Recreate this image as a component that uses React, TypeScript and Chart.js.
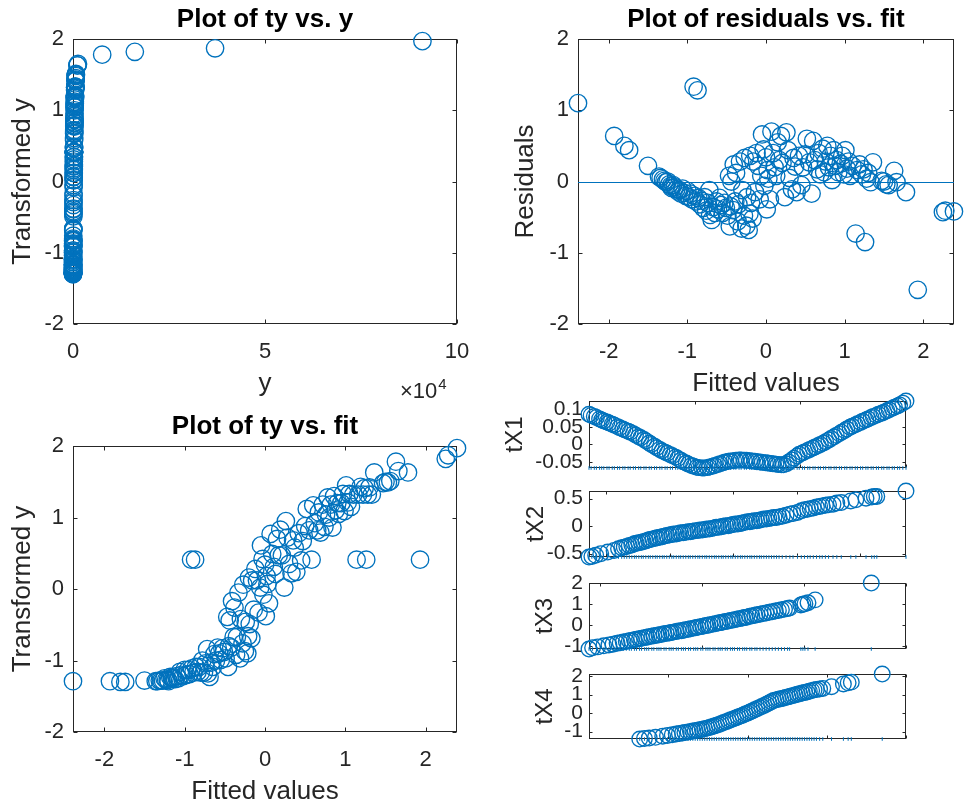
import { useEffect, useRef } from "react";
import { Chart, registerables } from "chart.js";

Chart.register(...registerables);

// ---------------------------------------------------------------------------
// Observations: fitted values, transformed response and raw response
// ---------------------------------------------------------------------------
const fitted = [
  -2.39, -1.93, -1.8, -1.74, -1.5, -1.36, -1.34, -1.31, -1.29, -1.27,
  -1.25, -1.23, -1.21, -1.2, -1.18, -1.16, -1.14, -1.12, -1.1, -1.08,
  -1.06, -1.04, -1.02, -1.0, -0.98, -0.96, -0.94, -0.92, -0.91, -0.89,
  -0.87, -0.86, -0.84, -0.82, -0.8, -0.78, -0.76, -0.74, -0.72, -0.71,
  -0.69, -0.67, -0.65, -0.63, -0.61, -0.59, -0.57, -0.55, -0.53, -0.51,
  -0.49, -0.47, -0.46, -0.45, -0.44, -0.42, -0.41, -0.39, -0.38, -0.36,
  -0.35, -0.33, -0.31, -0.3, -0.28, -0.27, -0.25, -0.24, -0.22, -0.21,
  -0.2, -0.19, -0.17, -0.16, -0.14, -0.12, -0.1, -0.08, -0.06, -0.05,
  -0.03, -0.02, 0.0, 0.01, 0.02, 0.03, 0.05, 0.07, 0.09, 0.11,
  0.13, 0.15, 0.17, 0.19, 0.21, 0.24, 0.26, 0.28, 0.3, 0.33,
  0.35, 0.37, 0.39, 0.42, 0.45, 0.47, 0.5, 0.52, 0.55, 0.58,
  0.6, 0.62, 0.65, 0.67, 0.69, 0.72, 0.74, 0.76, 0.78, 0.8,
  0.82, 0.84, 0.86, 0.88, 0.9, 0.92, 0.95, 0.97, 0.99, 1.01,
  1.03, 1.05, 1.07, 1.1, 1.14, 1.16, 1.19, 1.22, 1.24, 1.26,
  1.28, 1.3, 1.33, 1.36, 1.47, 1.5, 1.53, 1.56, 1.63, 1.66,
  1.78, 1.93, 2.25, 2.28, 2.39,
];

const transformedY = [
  -1.29, -1.29, -1.3, -1.3, -1.28, -1.29, -1.29, -1.28, -1.28, -1.28,
  -1.25, -1.27, -1.27, -1.29, -1.23, -1.24, -1.25, -1.26, -1.22, -1.25,
  -1.16, -1.2, -1.22, -1.13, -1.2, -1.13, -1.19, 0.41, -1.11, -1.17,
  0.41, -1.09, -1.16, -1.09, -1.17, -1.0, -1.17, -1.04, -0.84, -1.18,
  -1.23, -1.03, -1.09, -0.91, -1.0, -0.82, -0.9, -0.99, -0.83, -0.88,
  -0.97, -0.39, -1.09, -0.8, -0.44, -0.82, -0.17, -0.67, -0.26, -0.92,
  -0.67, -0.05, -0.97, -0.42, -0.76, 0.06, -0.87, -0.46, -0.9, -0.66,
  0.16, -0.49, -0.69, 0.12, -0.29, 0.28, 0.12, -0.33, 0.02, 0.61,
  0.42, -0.08, 0.34, -0.38, 0.18, 0.07, -0.2, 0.77, 0.49, 0.31,
  0.21, 0.7, 0.47, 0.83, 0.47, 0.02, 0.95, 0.72, 0.35, 0.22,
  0.68, 0.58, 0.24, 0.78, 0.4, 0.67, 0.88, 1.12, 0.82, 0.41,
  1.17, 0.92, 0.82, 1.07, 0.79, 1.18, 0.87, 1.04, 1.28, 1.0,
  1.18, 0.86, 1.3, 1.1, 1.2, 1.05, 1.2, 1.33, 1.09, 1.45,
  1.21, 1.33, 1.15, 1.32, 0.41, 1.32, 1.43, 1.32, 1.41, 0.41,
  1.32, 1.42, 1.32, 1.63, 1.48, 1.5, 1.49, 1.51, 1.78, 1.65,
  1.63, 0.41, 1.82, 1.87, 1.97,
];

const responseY = [
  6, 6, 5, 5, 8, 6, 6, 8, 8, 8,
  11, 9, 9, 6, 13, 12, 11, 10, 14, 11,
  20, 16, 14, 23, 16, 23, 17, 248, 25, 19,
  248, 27, 20, 27, 19, 36, 19, 32, 55, 18,
  13, 33, 27, 46, 36, 58, 48, 37, 56, 50,
  40, 114, 27, 60, 107, 58, 145, 77, 132, 45,
  77, 163, 40, 110, 65, 182, 52, 104, 48, 78,
  199, 100, 74, 192, 128, 221, 192, 122, 175, 295,
  250, 158, 233, 116, 203, 184, 140, 337, 266, 227,
  208, 318, 262, 355, 262, 175, 396, 323, 235, 210,
  313, 287, 214, 340, 245, 310, 371, 468, 352, 248,
  494, 385, 352, 445, 343, 500, 368, 432, 560, 415,
  500, 364, 573, 459, 511, 436, 511, 594, 454, 690,
  517, 594, 483, 587, 248, 587, 672, 587, 655, 248,
  587, 663, 587, 1150, 718, 738, 728, 748, 7600, 1300,
  1150, 248, 16100, 37000, 91000,
];

// residual = transformed response - fitted value
const residuals = transformedY.map((t, i) => Math.round((t - fitted[i]) * 100) / 100);

// ---------------------------------------------------------------------------
// Predictors and their transformations
// ---------------------------------------------------------------------------
const x1 = [
  0.0, 0.02, 0.05, 0.07, 0.1, 0.12, 0.14, 0.17, 0.19, 0.22,
  0.24, 0.27, 0.29, 0.32, 0.34, 0.37, 0.39, 0.42, 0.44, 0.47,
  0.49, 0.52, 0.54, 0.57, 0.59, 0.62, 0.64, 0.67, 0.69, 0.72,
  0.74, 0.77, 0.79, 0.82, 0.84, 0.87, 0.89, 0.92, 0.94, 0.97,
  0.99, 1.02, 1.04, 1.07, 1.09, 1.12, 1.14, 1.17, 1.19, 1.22,
  1.24, 1.27, 1.29, 1.32, 1.34, 1.37, 1.39, 1.42, 1.44, 1.47,
  1.49, 1.52, 1.54, 1.57, 1.59, 1.62, 1.64, 1.67, 1.69, 1.72,
  1.74, 1.77, 1.79, 1.82, 1.84, 1.87, 1.89, 1.92, 1.94, 1.97,
  1.99, 2.02, 2.04, 2.07, 2.09, 2.12, 2.14, 2.17, 2.19, 2.22,
  2.24, 2.27, 2.29, 2.32, 2.34, 2.37, 2.39, 2.42, 2.44, 2.47,
  2.49, 2.52, 2.54, 2.57, 2.59, 2.62, 2.64, 2.67, 2.69, 2.72,
  2.74, 2.77, 2.79, 2.82, 2.84, 2.87, 2.89, 2.92, 2.94, 2.97,
  3.0,
];
const tX1 = [
  0.086, 0.083, 0.08, 0.077, 0.073, 0.07, 0.067, 0.064, 0.061, 0.058,
  0.055, 0.051, 0.048, 0.044, 0.041, 0.038, 0.035, 0.031, 0.027, 0.022,
  0.019, 0.014, 0.01, 0.004, 0.0, -0.005, -0.009, -0.014, -0.018, -0.022,
  -0.025, -0.029, -0.032, -0.036, -0.04, -0.045, -0.049, -0.053, -0.056, -0.06,
  -0.062, -0.065, -0.066, -0.067, -0.067, -0.066, -0.064, -0.062, -0.06, -0.057,
  -0.055, -0.052, -0.05, -0.048, -0.047, -0.046, -0.045, -0.044, -0.044, -0.045,
  -0.045, -0.046, -0.047, -0.048, -0.049, -0.05, -0.051, -0.052, -0.053, -0.054,
  -0.055, -0.056, -0.057, -0.058, -0.058, -0.055, -0.05, -0.044, -0.039, -0.033,
  -0.028, -0.024, -0.021, -0.017, -0.014, -0.01, -0.007, -0.003, 0.0, 0.004,
  0.008, 0.013, 0.017, 0.022, 0.026, 0.031, 0.035, 0.04, 0.044, 0.049,
  0.052, 0.056, 0.059, 0.063, 0.066, 0.07, 0.073, 0.077, 0.08, 0.083,
  0.086, 0.089, 0.092, 0.096, 0.099, 0.103, 0.106, 0.11, 0.113, 0.118,
  0.124,
];

const x2 = [
  0.725, 0.77, 0.83, 0.91, 1.02, 1.12, 1.19, 1.24, 1.28, 1.32,
  1.36, 1.4, 1.44, 1.47, 1.51, 1.55, 1.58, 1.62, 1.66, 1.69,
  1.73, 1.77, 1.8, 1.84, 1.88, 1.91, 1.95, 1.99, 2.03, 2.06,
  2.1, 2.14, 2.17, 2.21, 2.25, 2.29, 2.32, 2.36, 2.4, 2.44,
  2.47, 2.51, 2.55, 2.58, 2.62, 2.66, 2.7, 2.73, 2.77, 2.81,
  2.84, 2.88, 2.92, 2.96, 2.99, 3.03, 3.07, 3.11, 3.14, 3.18,
  3.22, 3.26, 3.29, 3.33, 3.37, 3.41, 3.44, 3.48, 3.52, 3.56,
  3.6, 3.64, 3.68, 3.72, 3.77, 3.83, 3.89, 3.94, 4.01, 4.07,
  4.12, 4.17, 4.21, 4.26, 4.31, 4.36, 4.4, 4.45, 4.5, 4.57,
  4.63, 4.7, 4.85, 4.93, 5.09, 5.18, 5.22, 5.26, 5.72,
];
const tX2 = [
  -0.56, -0.55, -0.53, -0.5, -0.47, -0.44, -0.41, -0.39, -0.38, -0.37,
  -0.35, -0.34, -0.32, -0.31, -0.3, -0.29, -0.28, -0.27, -0.25, -0.24,
  -0.23, -0.22, -0.21, -0.2, -0.19, -0.18, -0.17, -0.16, -0.15, -0.14,
  -0.14, -0.13, -0.12, -0.12, -0.11, -0.1, -0.1, -0.09, -0.08, -0.08,
  -0.07, -0.07, -0.06, -0.05, -0.05, -0.04, -0.03, -0.02, -0.02, -0.01,
  0.0, 0.01, 0.01, 0.02, 0.03, 0.04, 0.04, 0.05, 0.06, 0.07,
  0.08, 0.08, 0.09, 0.1, 0.1, 0.11, 0.12, 0.13, 0.13, 0.14,
  0.15, 0.16, 0.16, 0.17, 0.18, 0.2, 0.22, 0.23, 0.25, 0.28,
  0.3, 0.31, 0.32, 0.33, 0.35, 0.36, 0.37, 0.38, 0.39, 0.4,
  0.42, 0.43, 0.46, 0.48, 0.51, 0.53, 0.54, 0.54, 0.64,
];

const x3 = [
  0.895, 0.93, 0.98, 1.04, 1.09, 1.13, 1.17, 1.2, 1.23, 1.26,
  1.29, 1.31, 1.34, 1.36, 1.39, 1.41, 1.44, 1.46, 1.48, 1.51,
  1.53, 1.56, 1.58, 1.6, 1.63, 1.65, 1.68, 1.7, 1.72, 1.75,
  1.77, 1.8, 1.82, 1.84, 1.87, 1.89, 1.92, 1.94, 1.96, 1.99,
  2.01, 2.04, 2.06, 2.08, 2.11, 2.13, 2.16, 2.18, 2.2, 2.23,
  2.25, 2.28, 2.3, 2.32, 2.35, 2.37, 2.4, 2.42, 2.44, 2.47,
  2.49, 2.52, 2.54, 2.57, 2.6, 2.63, 2.66, 2.69, 2.72, 2.75,
  2.78, 2.81, 2.84, 2.86, 2.97, 2.99, 3.01, 3.04, 3.11, 3.66,
];
const tX3 = [
  -1.13, -1.07, -1.03, -0.98, -0.94, -0.9, -0.86, -0.83, -0.8, -0.77,
  -0.74, -0.72, -0.69, -0.67, -0.64, -0.62, -0.59, -0.57, -0.55, -0.52,
  -0.5, -0.48, -0.46, -0.44, -0.41, -0.39, -0.37, -0.35, -0.33, -0.3,
  -0.28, -0.26, -0.24, -0.22, -0.19, -0.17, -0.14, -0.12, -0.1, -0.07,
  -0.05, -0.02, 0.0, 0.02, 0.05, 0.07, 0.1, 0.12, 0.14, 0.17,
  0.19, 0.22, 0.24, 0.26, 0.29, 0.31, 0.34, 0.36, 0.38, 0.42,
  0.44, 0.47, 0.49, 0.52, 0.55, 0.58, 0.61, 0.64, 0.67, 0.7,
  0.73, 0.76, 0.79, 0.81, 0.96, 0.99, 1.02, 1.06, 1.2, 2.0,
];

const x4 = [
  0.64, 0.7, 0.76, 0.84, 0.93, 0.99, 1.05, 1.1, 1.14, 1.18,
  1.21, 1.25, 1.28, 1.31, 1.34, 1.37, 1.4, 1.43, 1.46, 1.49,
  1.52, 1.55, 1.58, 1.61, 1.64, 1.67, 1.7, 1.73, 1.76, 1.79,
  1.82, 1.85, 1.88, 1.91, 1.94, 1.97, 2.0, 2.03, 2.06, 2.09,
  2.12, 2.15, 2.18, 2.21, 2.24, 2.27, 2.3, 2.33, 2.36, 2.39,
  2.42, 2.45, 2.48, 2.51, 2.54, 2.57, 2.6, 2.63, 2.66, 2.69,
  2.72, 2.75, 2.78, 2.81, 2.84, 2.87, 2.91, 2.95, 3.06, 3.21,
  3.27, 3.31, 3.7,
];
const tX4 = [
  -1.4, -1.37, -1.35, -1.31, -1.25, -1.21, -1.17, -1.13, -1.1, -1.07,
  -1.05, -1.02, -1.0, -0.97, -0.95, -0.92, -0.9, -0.87, -0.84, -0.81,
  -0.78, -0.74, -0.7, -0.66, -0.61, -0.56, -0.51, -0.46, -0.41, -0.36,
  -0.31, -0.26, -0.21, -0.16, -0.11, -0.05, 0.0, 0.06, 0.12, 0.18,
  0.24, 0.3, 0.36, 0.42, 0.48, 0.55, 0.62, 0.68, 0.72, 0.75,
  0.78, 0.81, 0.85, 0.88, 0.91, 0.95, 0.98, 1.02, 1.05, 1.09,
  1.12, 1.15, 1.19, 1.22, 1.26, 1.28, 1.31, 1.34, 1.43, 1.58,
  1.64, 1.68, 2.12,
];

// ---------------------------------------------------------------------------
// Axis ticks and limits
// ---------------------------------------------------------------------------
const unitTicks = [-2, -1, 0, 1, 2];
const unitRange = [-2, 2];
const responseTicks = [0, 50000, 100000];
const responseRange = [0, 100000];
const responseExponent = 4;
const x1Ticks = [0, 1, 2, 3];
const x1Range = [0, 3];
const tX1Ticks = [-0.05, 0, 0.05, 0.1];
const x2Ticks = [1, 2, 3, 4, 5];
const x2Range = [0.725, 5.72];
const tX2Ticks = [-0.5, 0, 0.5];
const x3Ticks = [1, 2, 3, 4];
const x3Range = [0.895, 4];
const tX3Ticks = [-1, 0, 1, 2];
const x4Ticks = [0, 1, 2, 3, 4];
const x4Range = [0, 4];
const tX4Ticks = [-1, 0, 1, 2];
const residualReference = 0;

// ---------------------------------------------------------------------------
// Styling
// ---------------------------------------------------------------------------
const BLUE = "#0072BD";
const AXIS = "#262626";
const FONT = "'Liberation Sans', Arial, Helvetica, sans-serif";

const fmtPlain = (v: number | string) => String(Math.round(Number(v) * 10000) / 10000);
const fmtExponent = (v: number | string) => String(Number(v) / Math.pow(10, responseExponent));

// Box around the plot area with inward tick marks on all four sides
const boxPlugin = {
  id: "matlabBox",
  beforeDatasetsDraw(chart: any, _args: any, opts: any) {
    const { ctx, chartArea: a, scales } = chart;
    const len = opts.tickLength ?? 4;
    const L = Math.round(a.left) + 0.5;
    const R = Math.round(a.right) - 0.5;
    const T = Math.round(a.top) + 0.5;
    const B = Math.round(a.bottom) - 0.5;
    ctx.save();
    ctx.strokeStyle = AXIS;
    ctx.lineWidth = 1;
    ctx.strokeRect(L, T, R - L, B - T);
    ctx.beginPath();
    for (const t of scales.x.ticks) {
      const px = Math.round(scales.x.getPixelForValue(t.value)) + 0.5;
      ctx.moveTo(px, B);
      ctx.lineTo(px, B - len);
      ctx.moveTo(px, T);
      ctx.lineTo(px, T + len);
    }
    for (const t of scales.y.ticks) {
      const py = Math.round(scales.y.getPixelForValue(t.value)) + 0.5;
      ctx.moveTo(L, py);
      ctx.lineTo(L + len, py);
      ctx.moveTo(R, py);
      ctx.lineTo(R - len, py);
    }
    ctx.stroke();
    ctx.beginPath();
    ctx.restore();
  },
};

// Horizontal reference line (residual = 0) across the fitted range
const referencePlugin = {
  id: "referenceLine",
  afterDatasetsDraw(chart: any, _args: any, opts: any) {
    if (opts.value === undefined || opts.value === null) return;
    const { ctx, scales } = chart;
    const py = Math.round(scales.y.getPixelForValue(opts.value)) + 0.5;
    const x0 = scales.x.getPixelForValue(opts.from);
    const x1p = scales.x.getPixelForValue(opts.to);
    ctx.save();
    ctx.beginPath();
    ctx.strokeStyle = BLUE;
    ctx.lineWidth = 1;
    ctx.moveTo(x0, py);
    ctx.lineTo(x1p, py);
    ctx.stroke();
    ctx.restore();
  },
};

// "×10^n" multiplier under the right end of the x axis
const exponentPlugin = {
  id: "axisExponent",
  afterDraw(chart: any, _args: any, opts: any) {
    const { ctx, chartArea: a } = chart;
    const x0 = a.right - 57;
    const base = a.bottom + 74;
    ctx.save();
    ctx.fillStyle = AXIS;
    ctx.textAlign = "left";
    ctx.textBaseline = "alphabetic";
    ctx.font = `22px ${FONT}`;
    ctx.fillText("×10", x0, base);
    const w = ctx.measureText("×10").width;
    ctx.font = `15px ${FONT}`;
    ctx.fillText(String(opts.exponent), x0 + w + 1, base - 9);
    ctx.restore();
  },
};

const circles = (xs: number[], ys: number[], radius: number) => ({
  type: "scatter",
  data: xs.map((x, i) => ({ x, y: ys[i] })),
  pointStyle: "circle",
  pointRadius: radius,
  pointBorderWidth: 1.35,
  pointBorderColor: BLUE,
  pointBackgroundColor: "rgba(0,0,0,0)",
  clip: false as const,
});

const rug = (xs: number[], ys: number[]) => {
  const base = Math.min(...ys);
  return {
    type: "scatter",
    data: xs.map((x) => ({ x, y: base })),
    pointStyle: "line",
    pointRotation: 90,
    pointRadius: 1.8,
    pointBorderWidth: 1,
    pointBorderColor: BLUE,
    clip: false as const,
  };
};

type Box = { l: number; t: number; r: number; b: number };
type PanelSpec = {
  id: string;
  box: Box;
  yAxisWidth: number;
  top: number;
  xAxisHeight: number;
  right: number;
  title?: string;
  xLabel?: string;
  yLabel: string;
  xLabelPad?: number;
  xTicks: number[];
  yTicks: number[];
  xRange: number[];
  yRange: number[];
  xFormat?: (v: number | string) => string;
  xTickLabels: boolean;
  tickSize: number;
  labelSize: number;
  tickLength: number;
  yTickPad: number;
  exponent?: number;
  reference?: { value: number; from: number; to: number };
  datasets: any[];
};

const main = { tickSize: 22, labelSize: 26, tickLength: 4, yTickPad: 9, top: 32, xTickLabels: true };
const small = { tickSize: 21, labelSize: 24, tickLength: 3, yTickPad: 6, top: 12, xAxisHeight: 12, right: 18, xTickLabels: false };

const fitRange = [Math.min(...fitted), Math.max(...fitted)];
const span = (v: number[]) => [Math.min(...v), Math.max(...v)];

const panels: PanelSpec[] = [
  {
    id: "ty-y",
    ...main,
    box: { l: 73, t: 39, r: 457, b: 324 },
    yAxisWidth: 63,
    xAxisHeight: 77,
    right: 12,
    title: "Plot of ty vs. y",
    xLabel: "y",
    xLabelPad: 4,
    yLabel: "Transformed y",
    xTicks: responseTicks,
    yTicks: unitTicks,
    xRange: responseRange,
    yRange: unitRange,
    xFormat: fmtExponent,
    exponent: responseExponent,
    datasets: [circles(responseY, transformedY, 8.7)],
  },
  {
    id: "res-fit",
    ...main,
    box: { l: 578, t: 39, r: 963, b: 324 },
    yAxisWidth: 65,
    xAxisHeight: 73,
    right: 1,
    title: "Plot of residuals vs. fit",
    xLabel: "Fitted values",
    yLabel: "Residuals",
    xTicks: unitTicks,
    yTicks: unitTicks,
    xRange: fitRange,
    yRange: unitRange,
    reference: { value: residualReference, from: fitRange[0], to: fitRange[1] },
    datasets: [circles(fitted, residuals, 8.7)],
  },
  {
    id: "ty-fit",
    ...main,
    box: { l: 73, t: 446, r: 457, b: 732 },
    yAxisWidth: 63,
    xAxisHeight: 73,
    right: 12,
    title: "Plot of ty vs. fit",
    xLabel: "Fitted values",
    yLabel: "Transformed y",
    xTicks: unitTicks,
    yTicks: unitTicks,
    xRange: fitRange,
    yRange: unitRange,
    datasets: [circles(fitted, transformedY, 8.7)],
  },
  {
    id: "tx1",
    ...small,
    box: { l: 589, t: 401, r: 906, b: 468 },
    yAxisWidth: 86,
    yLabel: "tX1",
    xTicks: x1Ticks,
    yTicks: tX1Ticks,
    xRange: x1Range,
    yRange: span(tX1),
    datasets: [rug(x1, tX1), circles(x1, tX1, 7.8)],
  },
  {
    id: "tx2",
    ...small,
    box: { l: 589, t: 491, r: 906, b: 557 },
    yAxisWidth: 65,
    yLabel: "tX2",
    xTicks: x2Ticks,
    yTicks: tX2Ticks,
    xRange: x2Range,
    yRange: span(tX2),
    datasets: [rug(x2, tX2), circles(x2, tX2, 7.8)],
  },
  {
    id: "tx3",
    ...small,
    box: { l: 589, t: 583, r: 906, b: 649 },
    yAxisWidth: 56,
    yLabel: "tX3",
    xTicks: x3Ticks,
    yTicks: tX3Ticks,
    xRange: x3Range,
    yRange: span(tX3),
    datasets: [rug(x3, tX3), circles(x3, tX3, 7.8)],
  },
  {
    id: "tx4",
    ...small,
    box: { l: 589, t: 674, r: 906, b: 739 },
    yAxisWidth: 56,
    yLabel: "tX4",
    xTicks: x4Ticks,
    yTicks: tX4Ticks,
    xRange: x4Range,
    yRange: span(tX4),
    datasets: [rug(x4, tX4), circles(x4, tX4, 7.8)],
  },
];

function buildConfig(s: PanelSpec): any {
  const tickFont = { family: FONT, size: s.tickSize, lineHeight: 1 };
  const labelFont = { family: FONT, size: s.labelSize, lineHeight: 1 };
  const plugins: any[] = [boxPlugin];
  if (s.reference) plugins.push(referencePlugin);
  if (s.exponent) plugins.push(exponentPlugin);
  return {
    type: "scatter",
    data: { datasets: s.datasets },
    options: {
      animation: false,
      responsive: false,
      events: [],
      layout: { padding: { top: s.title ? 0 : s.top, right: s.right, bottom: 0, left: 0 } },
      plugins: {
        legend: { display: false },
        tooltip: { enabled: false },
        title: s.title
          ? {
              display: true,
              text: s.title,
              fullSize: false,
              color: "#000000",
              font: { family: FONT, size: 26, weight: "bold", lineHeight: 1 },
              padding: { top: 0, bottom: 6 },
            }
          : { display: false },
        matlabBox: { tickLength: s.tickLength },
        referenceLine: s.reference ?? {},
        axisExponent: { exponent: s.exponent },
      },
      scales: {
        x: {
          type: "linear",
          min: s.xRange[0],
          max: s.xRange[1],
          grid: { display: false, drawTicks: false },
          border: { display: false },
          ticks: {
            display: s.xTickLabels,
            autoSkip: false,
            maxRotation: 0,
            minRotation: 0,
            padding: 17,
            color: AXIS,
            font: tickFont,
            callback: s.xFormat ?? fmtPlain,
          },
          title: s.xLabel
            ? {
                display: true,
                text: s.xLabel,
                color: AXIS,
                font: labelFont,
                padding: { top: 0, bottom: s.xLabelPad ?? 0 },
              }
            : { display: false },
          afterBuildTicks: (sc: any) => {
            sc.ticks = s.xTicks.map((v) => ({ value: v }));
          },
          afterFit: (sc: any) => {
            sc.height = s.xAxisHeight;
            sc.paddingLeft = 0;
            sc.paddingRight = 0;
          },
        },
        y: {
          type: "linear",
          min: s.yRange[0],
          max: s.yRange[1],
          grid: { display: false, drawTicks: false },
          border: { display: false },
          ticks: {
            autoSkip: false,
            padding: s.yTickPad,
            color: AXIS,
            font: tickFont,
            callback: fmtPlain,
          },
          title: {
            display: true,
            text: s.yLabel,
            color: AXIS,
            font: labelFont,
            padding: { top: 0, bottom: 0 },
          },
          afterBuildTicks: (sc: any) => {
            sc.ticks = s.yTicks.map((v) => ({ value: v }));
          },
          afterFit: (sc: any) => {
            sc.width = s.yAxisWidth;
            sc.paddingTop = 0;
            sc.paddingBottom = 0;
          },
        },
      },
    },
    plugins,
  };
}

function Panel({ spec }: { spec: PanelSpec }) {
  const ref = useRef<HTMLCanvasElement | null>(null);
  useEffect(() => {
    if (!ref.current) return;
    const chart = new Chart(ref.current, buildConfig(spec));
    return () => chart.destroy();
  }, [spec]);
  const { box, yAxisWidth, top, xAxisHeight, right } = spec;
  const w = box.r - box.l + yAxisWidth + right;
  const h = box.b - box.t + top + xAxisHeight;
  return (
    <canvas
      ref={ref}
      width={w}
      height={h}
      style={{ position: "absolute", left: box.l - yAxisWidth, top: box.t - top, width: w, height: h }}
    />
  );
}

export default function App() {
  return (
    <div
      style={{
        position: "absolute",
        left: 0,
        top: 0,
        width: 964,
        height: 808,
        overflow: "hidden",
        background: "#ffffff",
      }}
    >
      {panels.map((p) => (
        <Panel key={p.id} spec={p} />
      ))}
    </div>
  );
}
